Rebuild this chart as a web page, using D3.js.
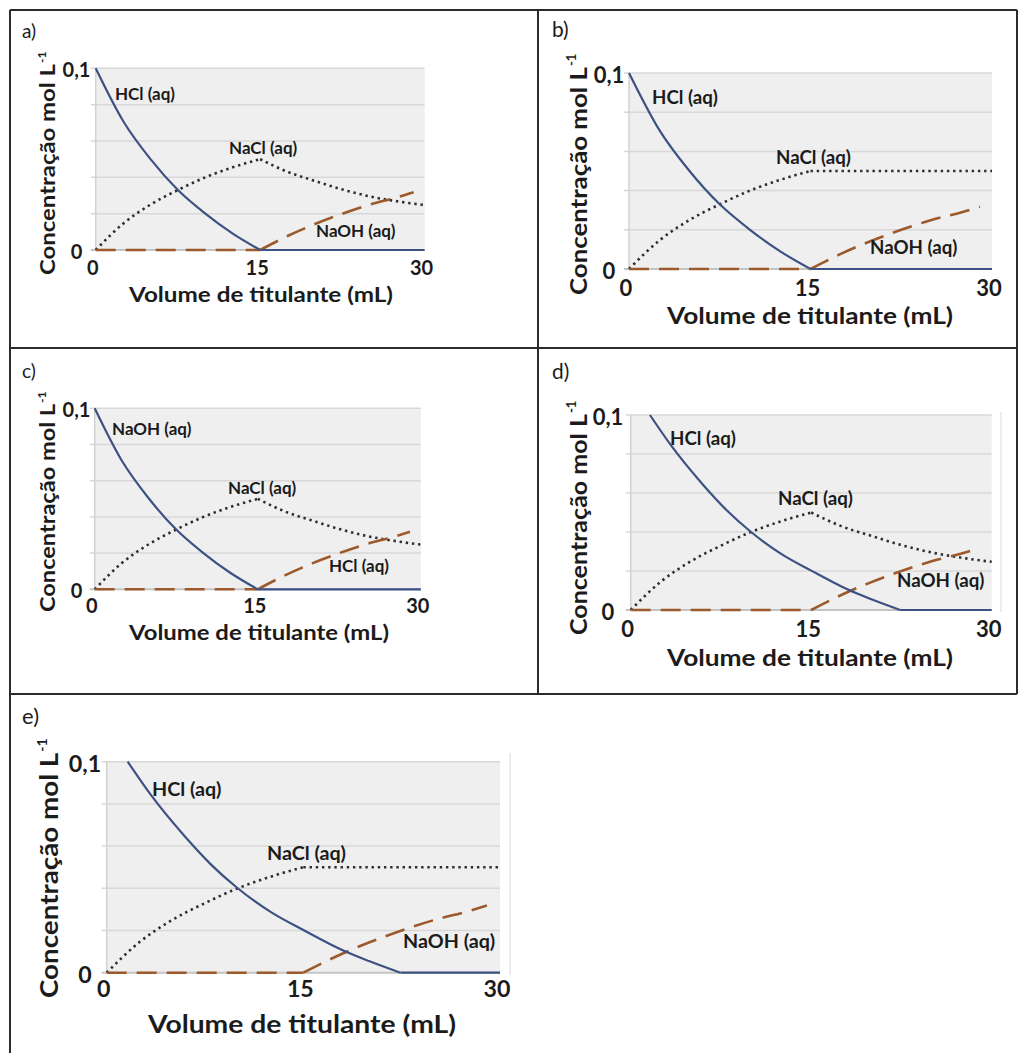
<!DOCTYPE html>
<html>
<head>
<meta charset="utf-8">
<script src="https://cdn.jsdelivr.net/npm/d3@7"></script>
<style>
  body { margin: 0; background: #fff; }
  text { font-family: Lato, "Open Sans", sans-serif; fill: #1b1b1b; }
</style>
</head>
<body>
<svg width="1019" height="1053"></svg>
<script>

var svg = d3.select('svg');

// ---- texts / ticks
var panelLetters = ['a)', 'b)', 'c)', 'd)', 'e)'];
var xTicks = [0, 15, 30];
var yTicks = [0, 0.1];
var yTickLabels = ['0', '0,1'];
var gridValues = [0.02, 0.04, 0.06, 0.08, 0.1];
var xTitle = 'Volume de titulante (mL)';
var yTitle = 'Concentração mol L';
var yTitleSup = '-1';
var labelsAcid = ['HCl (aq)', 'NaCl (aq)', 'NaOH (aq)'];
var labelsBase = ['NaOH (aq)', 'NaCl (aq)', 'HCl (aq)'];

// ---- curves (mL, mol/L)
var volFall = [0, 2.5, 5, 7.5, 10, 12.5, 15];
var consumed = [0.1, 0.071, 0.05, 0.033, 0.02, 0.009, 0];
var saltUp = [0, 0.0145, 0.025, 0.033, 0.04, 0.0455, 0.05];

var volAfter = [15, 17.5, 20, 22.5, 25, 27.5, 30];
var saltDown = [0.05, 0.043, 0.038, 0.0333, 0.0295, 0.0268, 0.0247];
var saltFlat = [0.05, 0.05, 0.05, 0.05, 0.05, 0.05, 0.05];

var volRise = [15, 17.5, 20, 22.5, 25, 27.5, 29];
var excess = [0, 0.0077, 0.0143, 0.02, 0.025, 0.029, 0.0318];

var volZeroEarly = [0, 15];
var zeroEarly = [0, 0];
var volZeroLate = [15, 30];
var zeroLate = [0, 0];

var volSlow = [1.6, 3.4, 5.9, 8, 9.9, 12.5, 15, 18, 20, 22.4];
var slowAcid = [0.1, 0.084, 0.065, 0.051, 0.0405, 0.0288, 0.0202, 0.0106, 0.0055, 0];
var volSlowTail = [22.4, 30];
var zeroSlowTail = [0, 0];

function pts(v, c) {
    return v.map(function(d, i) { return [d, c[i]]; });
}

function seriesSet(fallV, fallC, tailV, tailC, saltAfter) {
    return [
        {kind: 'dot',  segs: [pts(volFall, saltUp), pts(volAfter, saltAfter)]},
        {kind: 'dash', segs: [pts(volZeroEarly, zeroEarly), pts(volRise, excess)]},
        {kind: 'solid', segs: [pts(fallV, fallC), pts(tailV, tailC)]}
    ];
}

// ---- layout of the five cells
var panels = [
    {letter: [22, 30], x0: 95.7, x1: 424.6, top: 68.3, bot: 250, tickCx: 76.5, xTickY: 267,
     xt: [261, 294, 264], yt: [47, 275, 53], fs: 1.0, edge: null,
     names: labelsAcid, lab: [[115, 93], [229, 147], [316, 230]],
     series: seriesSet(volFall, consumed, volZeroLate, zeroLate, saltDown)},
    {letter: [552, 28], x0: 629, x1: 992, top: 73, bot: 269, tickCx: 609, xTickY: 287,
     xt: [810, 315, 286], yt: [578, 295, 55], fs: 1.1, edge: null,
     names: labelsAcid, lab: [[652, 97], [776, 157], [870, 247]],
     series: seriesSet(volFall, consumed, volZeroLate, zeroLate, saltFlat)},
    {letter: [22, 370], x0: 94.7, x1: 420.8, top: 408.3, bot: 589.3, tickCx: 76.5, xTickY: 605,
     xt: [259, 632, 260], yt: [47, 612, 393], fs: 1.0, edge: null,
     names: labelsBase, lab: [[112, 428], [228, 487], [329, 565]],
     series: seriesSet(volFall, consumed, volZeroLate, zeroLate, saltDown)},
    {letter: [552, 370], x0: 630.7, x1: 991.7, top: 415, bot: 610, tickCx: 608, xTickY: 628,
     xt: [810, 657, 286], yt: [578, 635, 402], fs: 1.1, edge: [1001, 412, 612],
     names: labelsAcid, lab: [[670, 438], [778, 498], [897, 580]],
     series: seriesSet(volSlow, slowAcid, volSlowTail, zeroSlowTail, saltDown)},
    {letter: [22, 715], x0: 106.7, x1: 500, top: 761.7, bot: 972.7, tickCx: 85, xTickY: 988,
     xt: [302, 1023, 308], yt: [48, 998, 740], fs: 1.16, edge: [510, 753, 975],
     names: labelsAcid, lab: [[152, 788], [267, 852], [403, 940]],
     series: seriesSet(volSlow, slowAcid, volSlowTail, zeroSlowTail, saltFlat)}
];

var styles = {
    solid: {stroke: '#3d5282', width: 2.2, dash: null, cap: 'butt'},
    dot:   {stroke: '#2e2e2e', width: 2.6, dash: '2.4,3.8', cap: 'butt'},
    dash:  {stroke: '#9c5a2c', width: 2.6, dash: '20,10', cap: 'butt'}
};

// ---- table borders
var borders = [
    [10, 10, 1017, 10], [10, 10, 10, 1053], [538, 10, 538, 694],
    [1017, 10, 1017, 694], [10, 348, 1017, 348], [10, 694, 1017, 694]
];
svg.selectAll('line.border').data(borders).enter().append('line')
    .attr('class', 'border')
    .attr('x1', function(d) { return d[0]; }).attr('y1', function(d) { return d[1]; })
    .attr('x2', function(d) { return d[2]; }).attr('y2', function(d) { return d[3]; })
    .style('stroke', '#2b2b2b').style('stroke-width', 2);

panels.forEach(function(p, i) { drawPanel(p, i); });

function drawPanel(p, idx) {
    var x = d3.scaleLinear().domain([0, 30]).range([p.x0, p.x1]);
    var y = d3.scaleLinear().domain([0, 0.1]).range([p.bot, p.top]);
    var g = svg.append('g');
    var s = p.fs;

    svg.append('text')
        .attr('x', p.letter[0]).attr('y', p.letter[1])
        .attr('dominant-baseline', 'central')
        .style('font-size', (19 * s) + 'px')
        .text(panelLetters[idx]);

    if (p.edge) {
        g.append('line')
            .attr('x1', p.edge[0]).attr('x2', p.edge[0])
            .attr('y1', p.edge[1]).attr('y2', p.edge[2])
            .style('stroke', '#e6e6e6').style('stroke-width', 1.5);
    }

    g.append('rect')
        .attr('x', p.x0).attr('y', y(0.1))
        .attr('width', p.x1 - p.x0).attr('height', y(0) - y(0.1))
        .style('fill', '#efefef');

    g.selectAll('line.grid').data(gridValues).enter().append('line')
        .attr('x1', p.x0 - 5).attr('x2', p.x1)
        .attr('y1', function(d) { return y(d); }).attr('y2', function(d) { return y(d); })
        .style('stroke', '#d8d8d8').style('stroke-width', 1.5);

    g.append('line')
        .attr('x1', p.x0).attr('x2', p.x0).attr('y1', y(0.1)).attr('y2', y(0))
        .style('stroke', '#d2d2d2').style('stroke-width', 1.5);
    g.append('line')
        .attr('x1', p.x0 - 5).attr('x2', p.x1).attr('y1', y(0)).attr('y2', y(0))
        .style('stroke', '#c4c4c4').style('stroke-width', 2);

    var line = d3.line()
        .x(function(d) { return x(d[0]); })
        .y(function(d) { return y(d[1]); })
        .curve(d3.curveMonotoneX);

    p.series.forEach(function(ser) {
        var st = styles[ser.kind];
        ser.segs.forEach(function(seg) {
            g.append('path')
                .attr('d', line(seg))
                .style('fill', 'none')
                .style('stroke', st.stroke)
                .style('stroke-width', st.width)
                .style('stroke-linecap', st.cap)
                .style('stroke-dasharray', st.dash);
        });
    });

    // tick labels
    g.selectAll('text.ytick').data(yTicks).enter().append('text')
        .attr('x', p.tickCx).attr('y', function(d) { return y(d) + 1; })
        .attr('text-anchor', 'middle').attr('dominant-baseline', 'central')
        .style('font-size', (20 * s) + 'px').style('font-weight', 700)
        .text(function(d, i) { return yTickLabels[i]; });

    g.selectAll('text.xtick').data(xTicks).enter().append('text')
        .attr('x', function(d) { return x(d) - 3; }).attr('y', p.xTickY)
        .attr('text-anchor', 'middle').attr('dominant-baseline', 'central')
        .style('font-size', (20 * s) + 'px').style('font-weight', 700)
        .text(function(d) { return d; });

    // axis titles
    g.append('text')
        .attr('x', p.xt[0] - p.xt[2] / 2).attr('y', p.xt[1])
        .attr('dominant-baseline', 'central')
        .attr('textLength', p.xt[2]).attr('lengthAdjust', 'spacingAndGlyphs')
        .style('font-size', (21.5 * s) + 'px').style('font-weight', 700)
        .text(xTitle);

    var supLen = 11 * s;
    var mainLen = p.yt[1] - p.yt[2] - supLen;
    g.append('text')
        .attr('transform', 'translate(' + p.yt[0] + ',' + p.yt[1] + ') rotate(-90)')
        .attr('dominant-baseline', 'central')
        .attr('textLength', mainLen).attr('lengthAdjust', 'spacingAndGlyphs')
        .style('font-size', (21.5 * s) + 'px').style('font-weight', 700)
        .text(yTitle);
    g.append('text')
        .attr('transform', 'translate(' + (p.yt[0] - 6 * s) + ',' + (p.yt[1] - mainLen - 1) + ') rotate(-90)')
        .attr('dominant-baseline', 'central')
        .style('font-size', (12 * s) + 'px').style('font-weight', 700)
        .text(yTitleSup);

    // series labels
    g.selectAll('text.lab').data(p.names).enter().append('text')
        .attr('x', function(d, i) { return p.lab[i][0]; })
        .attr('y', function(d, i) { return p.lab[i][1]; })
        .attr('dominant-baseline', 'central')
        .style('font-size', (17 * s) + 'px').style('font-weight', 700)
        .text(function(d) { return d; });
}
</script>
</body>
</html>
